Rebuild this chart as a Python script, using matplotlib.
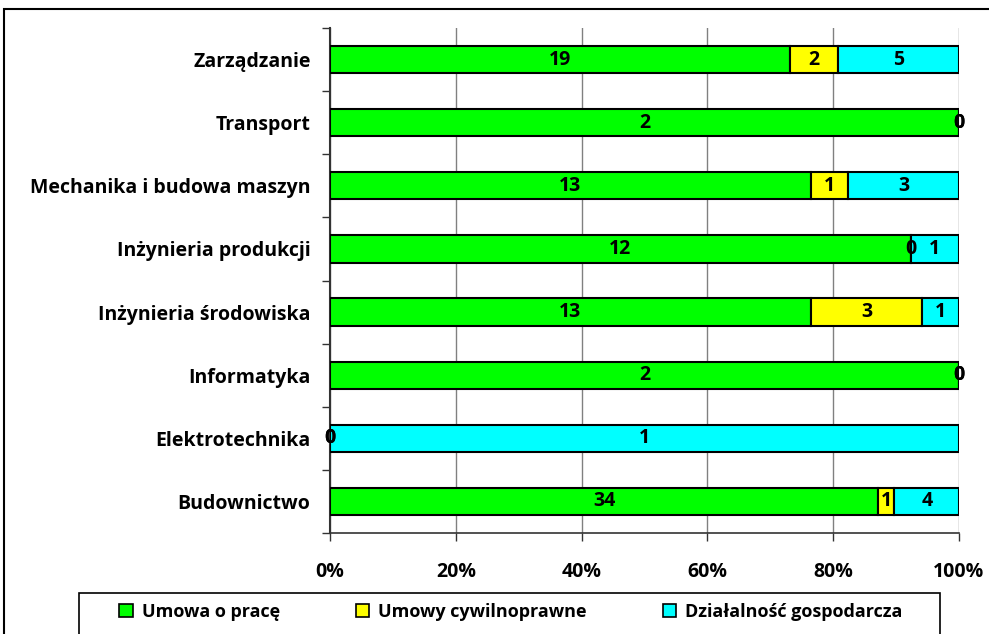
import matplotlib.pyplot as plt
import matplotlib.patches as mpatches
import numpy as np

plt.rcParams['font.family'] = ['Open Sans', 'DejaVu Sans']

# kierunki (od dołu do góry)
kierunki = ['Budownictwo', 'Elektrotechnika', 'Informatyka', 'Inżynieria środowiska',
            'Inżynieria produkcji', 'Mechanika i budowa maszyn', 'Transport', 'Zarządzanie']
umowa_o_prace = [34, 0, 2, 13, 12, 13, 2, 19]
umowy_cywilne = [1, 0, 0, 3, 0, 1, 0, 2]
dzialalnosc = [4, 1, 0, 1, 1, 3, 0, 5]

serie = ['Umowa o pracę', 'Umowy cywilnoprawne', 'Działalność gospodarcza']
kolory = ['#00FF00', '#FFFF00', '#00FFFF']
x_ticks = [0, 0.2, 0.4, 0.6, 0.8, 1.0]
x_labels = ['0%', '20%', '40%', '60%', '80%', '100%']

dane = np.array([umowa_o_prace, umowy_cywilne, dzialalnosc], dtype=float)
suma = dane.sum(axis=0)
udzialy = dane / suma

fig = plt.figure(figsize=(9.89, 6.34), dpi=100)
ax = fig.add_axes([330 / 989, 1 - 533 / 634, (959 - 330) / 989, (533 - 28) / 634])

y = np.arange(len(kierunki))
lewo = np.zeros(len(kierunki))
for i in range(3):
    ax.barh(y, udzialy[i], left=lewo, height=0.43, color=kolory[i],
            edgecolor='black', linewidth=1.5, zorder=3, label=serie[i])
    for j in range(len(kierunki)):
        ax.text(lewo[j] + udzialy[i][j] / 2, y[j], str(int(dane[i][j])),
                ha='center', va='center', fontsize=14, fontweight='bold', zorder=4)
    lewo = lewo + udzialy[i]

ax.set_xlim(0, 1)
ax.set_ylim(-0.5, len(kierunki) - 0.5)

ax.set_xticks(x_ticks)
ax.set_xticklabels(x_labels, fontsize=14, fontweight='bold')
ax.tick_params(axis='x', length=6, width=1, pad=15, color='#333333')

ax.set_yticks(np.arange(-0.5, len(kierunki), 1))
ax.set_yticklabels([])
ax.tick_params(axis='y', which='major', length=6, width=1, color='#333333')
ax.set_yticks(y, minor=True)
ax.set_yticklabels(kierunki, minor=True, fontsize=14, fontweight='bold')
ax.tick_params(axis='y', which='minor', length=0, pad=14)

ax.grid(axis='x', color='#808080', linewidth=1, zorder=0)
ax.spines['top'].set_visible(False)
ax.spines['right'].set_visible(False)
ax.spines['left'].set_color('#333333')
ax.spines['bottom'].set_color('#333333')
ax.spines['left'].set_linewidth(1.5)
ax.spines['bottom'].set_linewidth(1.2)

# ramka wokół całego wykresu
fig.patches.append(mpatches.Rectangle((4 / 989, -0.1), 1.2, 1.1 - 9 / 634,
                                      transform=fig.transFigure, fill=False,
                                      edgecolor='black', linewidth=1.5))
# ramka legendy
fig.patches.append(mpatches.Rectangle((79 / 989, -0.1), (940 - 79) / 989, 0.1 + 1 - 593 / 634,
                                      transform=fig.transFigure, fill=False,
                                      edgecolor='black', linewidth=1.2))

uchwyty = [mpatches.Patch(facecolor=kolory[i], edgecolor='black', linewidth=1.2, label=serie[i])
           for i in range(3)]
leg = fig.legend(handles=uchwyty, loc='center', ncol=3,
                 bbox_to_anchor=(511 / 989, 1 - 612 / 634),
                 prop={'size': 13, 'weight': 'bold'}, frameon=False,
                 handlelength=0.75, handleheight=0.75,
                 handletextpad=0.5, columnspacing=4.2, borderaxespad=0)

fig.savefig('out.png', dpi=100)
